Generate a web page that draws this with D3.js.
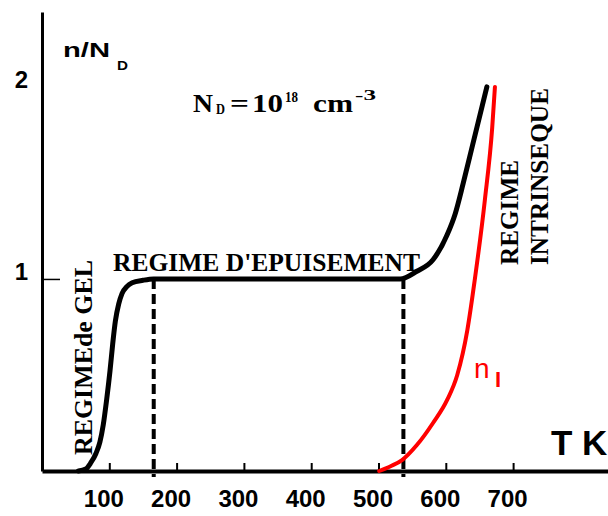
<!DOCTYPE html>
<html>
<head>
<meta charset="utf-8">
<script src="https://cdn.jsdelivr.net/npm/d3@7.8.5/dist/d3.min.js"></script>
<style>
  html, body { margin: 0; padding: 0; background: #fff; }
  svg { display: block; }
</style>
</head>
<body>
<div id="chart"></div>
<script>
// ── Data ────────────────────────────────────────────────────────────────────
const xTicks = [100, 200, 300, 400, 500, 600, 700];
const yTicks = [1, 2];
const regimeBounds = [166, 537]; // dashed separators (K)

// total electron density n/ND
const nTotal = [
  [54, 0], [65, 0.01], [72, 0.04], [80, 0.09], [86, 0.15], [91, 0.24],
  [96, 0.37], [101, 0.52], [105, 0.66], [109, 0.78], [114, 0.87],
  [119, 0.925], [126, 0.96], [134, 0.98], [150, 0.993], [166, 1.0],
  [300, 1.0], [450, 1.0], [532, 1.0], [557, 1.04], [581, 1.1],
  [602, 1.23], [614, 1.34], [626, 1.5], [640, 1.7], [654, 1.9], [661, 2.0],
];

// intrinsic density ni/ND
const nIntr = [
  [501, 0], [518, 0.025], [535, 0.057], [557, 0.135], [581, 0.25],
  [602, 0.37], [617, 0.5], [632, 0.734], [643, 0.995], [658, 1.41],
  [669, 1.79], [673, 2.0],
];

const W = 608, H = 516;
const SANS = "'Liberation Sans', Arial, sans-serif";
const SERIF = "'Liberation Serif', 'Times New Roman', serif";

const x = d3.scaleLinear().domain([0, 841]).range([42, 608]);
const y = d3.scaleLinear().domain([0, 2.39]).range([471, 12]);

const svg = d3.select("#chart").append("svg")
  .attr("width", W).attr("height", H);

// ── Axes ────────────────────────────────────────────────────────────────────
const gx = svg.append("g")
  .attr("transform", `translate(0,${y(0)})`)
  .call(d3.axisBottom(x).tickValues(xTicks).tickSize(-8).tickSizeOuter(0)
    .tickFormat(d3.format("d")));
gx.select(".domain").attr("stroke", "#000").attr("stroke-width", 4);
gx.selectAll(".tick line").attr("stroke", "#000").attr("stroke-width", 2);
gx.selectAll(".tick text")
  .attr("y", 36).attr("dy", 0).attr("dx", -6)
  .attr("textLength", 40).attr("lengthAdjust", "spacingAndGlyphs")
  .attr("fill", "#000")
  .style("font-family", SANS).style("font-size", "24px").style("font-weight", "bold");

const gy = svg.append("g")
  .attr("transform", `translate(${x(0)},0)`)
  .call(d3.axisLeft(y).tickValues(yTicks).tickSize(-18).tickSizeOuter(0)
    .tickFormat(d3.format("d")));
gy.select(".domain").attr("stroke", "#000").attr("stroke-width", 3);
gy.selectAll(".tick line")
  .attr("stroke", "#000").attr("stroke-width", 1.5)
  .attr("opacity", (d) => (d === 1 ? 1 : 0));
gy.selectAll(".tick text")
  .attr("x", -14).attr("y", -8).attr("dy", "0.36em")
  .attr("fill", "#000")
  .style("font-family", SANS).style("font-size", "24px").style("font-weight", "bold");

// ── Dashed regime boundaries ───────────────────────────────────────────────
svg.selectAll(".bound").data(regimeBounds).join("line")
  .attr("class", "bound")
  .attr("x1", (d) => x(d)).attr("x2", (d) => x(d))
  .attr("y1", y(1)).attr("y2", y(0) + 6)
  .attr("stroke", "#000").attr("stroke-width", 4)
  .attr("stroke-dasharray", "10,5");

// ── Curves ─────────────────────────────────────────────────────────────────
const line = d3.line()
  .x((d) => x(d[0])).y((d) => y(d[1]))
  .curve(d3.curveMonotoneX);

svg.append("path").datum(nIntr)
  .attr("d", line).attr("fill", "none")
  .attr("stroke", "#ff0000").attr("stroke-width", 4)
  .attr("stroke-linecap", "round");

svg.append("path").datum(nTotal)
  .attr("d", line).attr("fill", "none")
  .attr("stroke", "#000").attr("stroke-width", 5)
  .attr("stroke-linecap", "round").attr("stroke-linejoin", "round");

// ── Labels ─────────────────────────────────────────────────────────────────
// small helper: one text piece squeezed to a measured width
function piece(px, py, size, w, txt, family) {
  return svg.append("text")
    .attr("x", px).attr("y", py)
    .attr("textLength", w).attr("lengthAdjust", "spacingAndGlyphs")
    .style("font-family", family).style("font-weight", "bold")
    .style("font-size", size + "px")
    .text(txt);
}

// y axis title n/ND
piece(63, 57, 21, 47, "n/N", SANS);
piece(117, 70, 13, 11, "D", SANS);

// ND = 10^18 cm^-3
piece(193, 112, 25, 20, "N", SERIF);
piece(216, 114, 14, 9, "D", SERIF);
piece(230, 112, 25, 19, "=", SERIF);
piece(252, 112, 25, 31, "10", SERIF);
piece(285, 102, 14, 13, "18", SERIF);
piece(313, 112, 25, 40, "cm", SERIF);
piece(355, 100, 14, 21, "-3", SERIF);

// Regime labels
piece(113, 271, 25, 307, "REGIME D'EPUISEMENT", SERIF);

const vertical = [
  { t: "REGIMEde GEL", bx: 92, by: 455, len: 195 },
  { t: "REGIME", bx: 518, by: 265, len: 105 },
  { t: "INTRINSEQUE", bx: 548, by: 265, len: 177 },
];
svg.selectAll(".vlab").data(vertical).join("text")
  .attr("class", "vlab")
  .attr("transform", (d) => `translate(${d.bx},${d.by}) rotate(-90)`)
  .attr("textLength", (d) => d.len).attr("lengthAdjust", "spacingAndGlyphs")
  .style("font-family", SERIF).style("font-weight", "bold").style("font-size", "25px")
  .text((d) => d.t);

// ni label
const ni = svg.append("text").attr("fill", "#ff0000").style("font-family", SANS);
ni.append("tspan").attr("x", 474).attr("y", 378).style("font-size", "28px").text("n");
ni.append("tspan").attr("x", 495).attr("y", 387).style("font-size", "22px")
  .style("font-weight", "bold").text("I");

// x axis title
svg.append("text")
  .attr("x", 551).attr("y", 455)
  .style("font-family", SANS).style("font-weight", "bold").style("font-size", "35px")
  .text("T K");
</script>
</body>
</html>
